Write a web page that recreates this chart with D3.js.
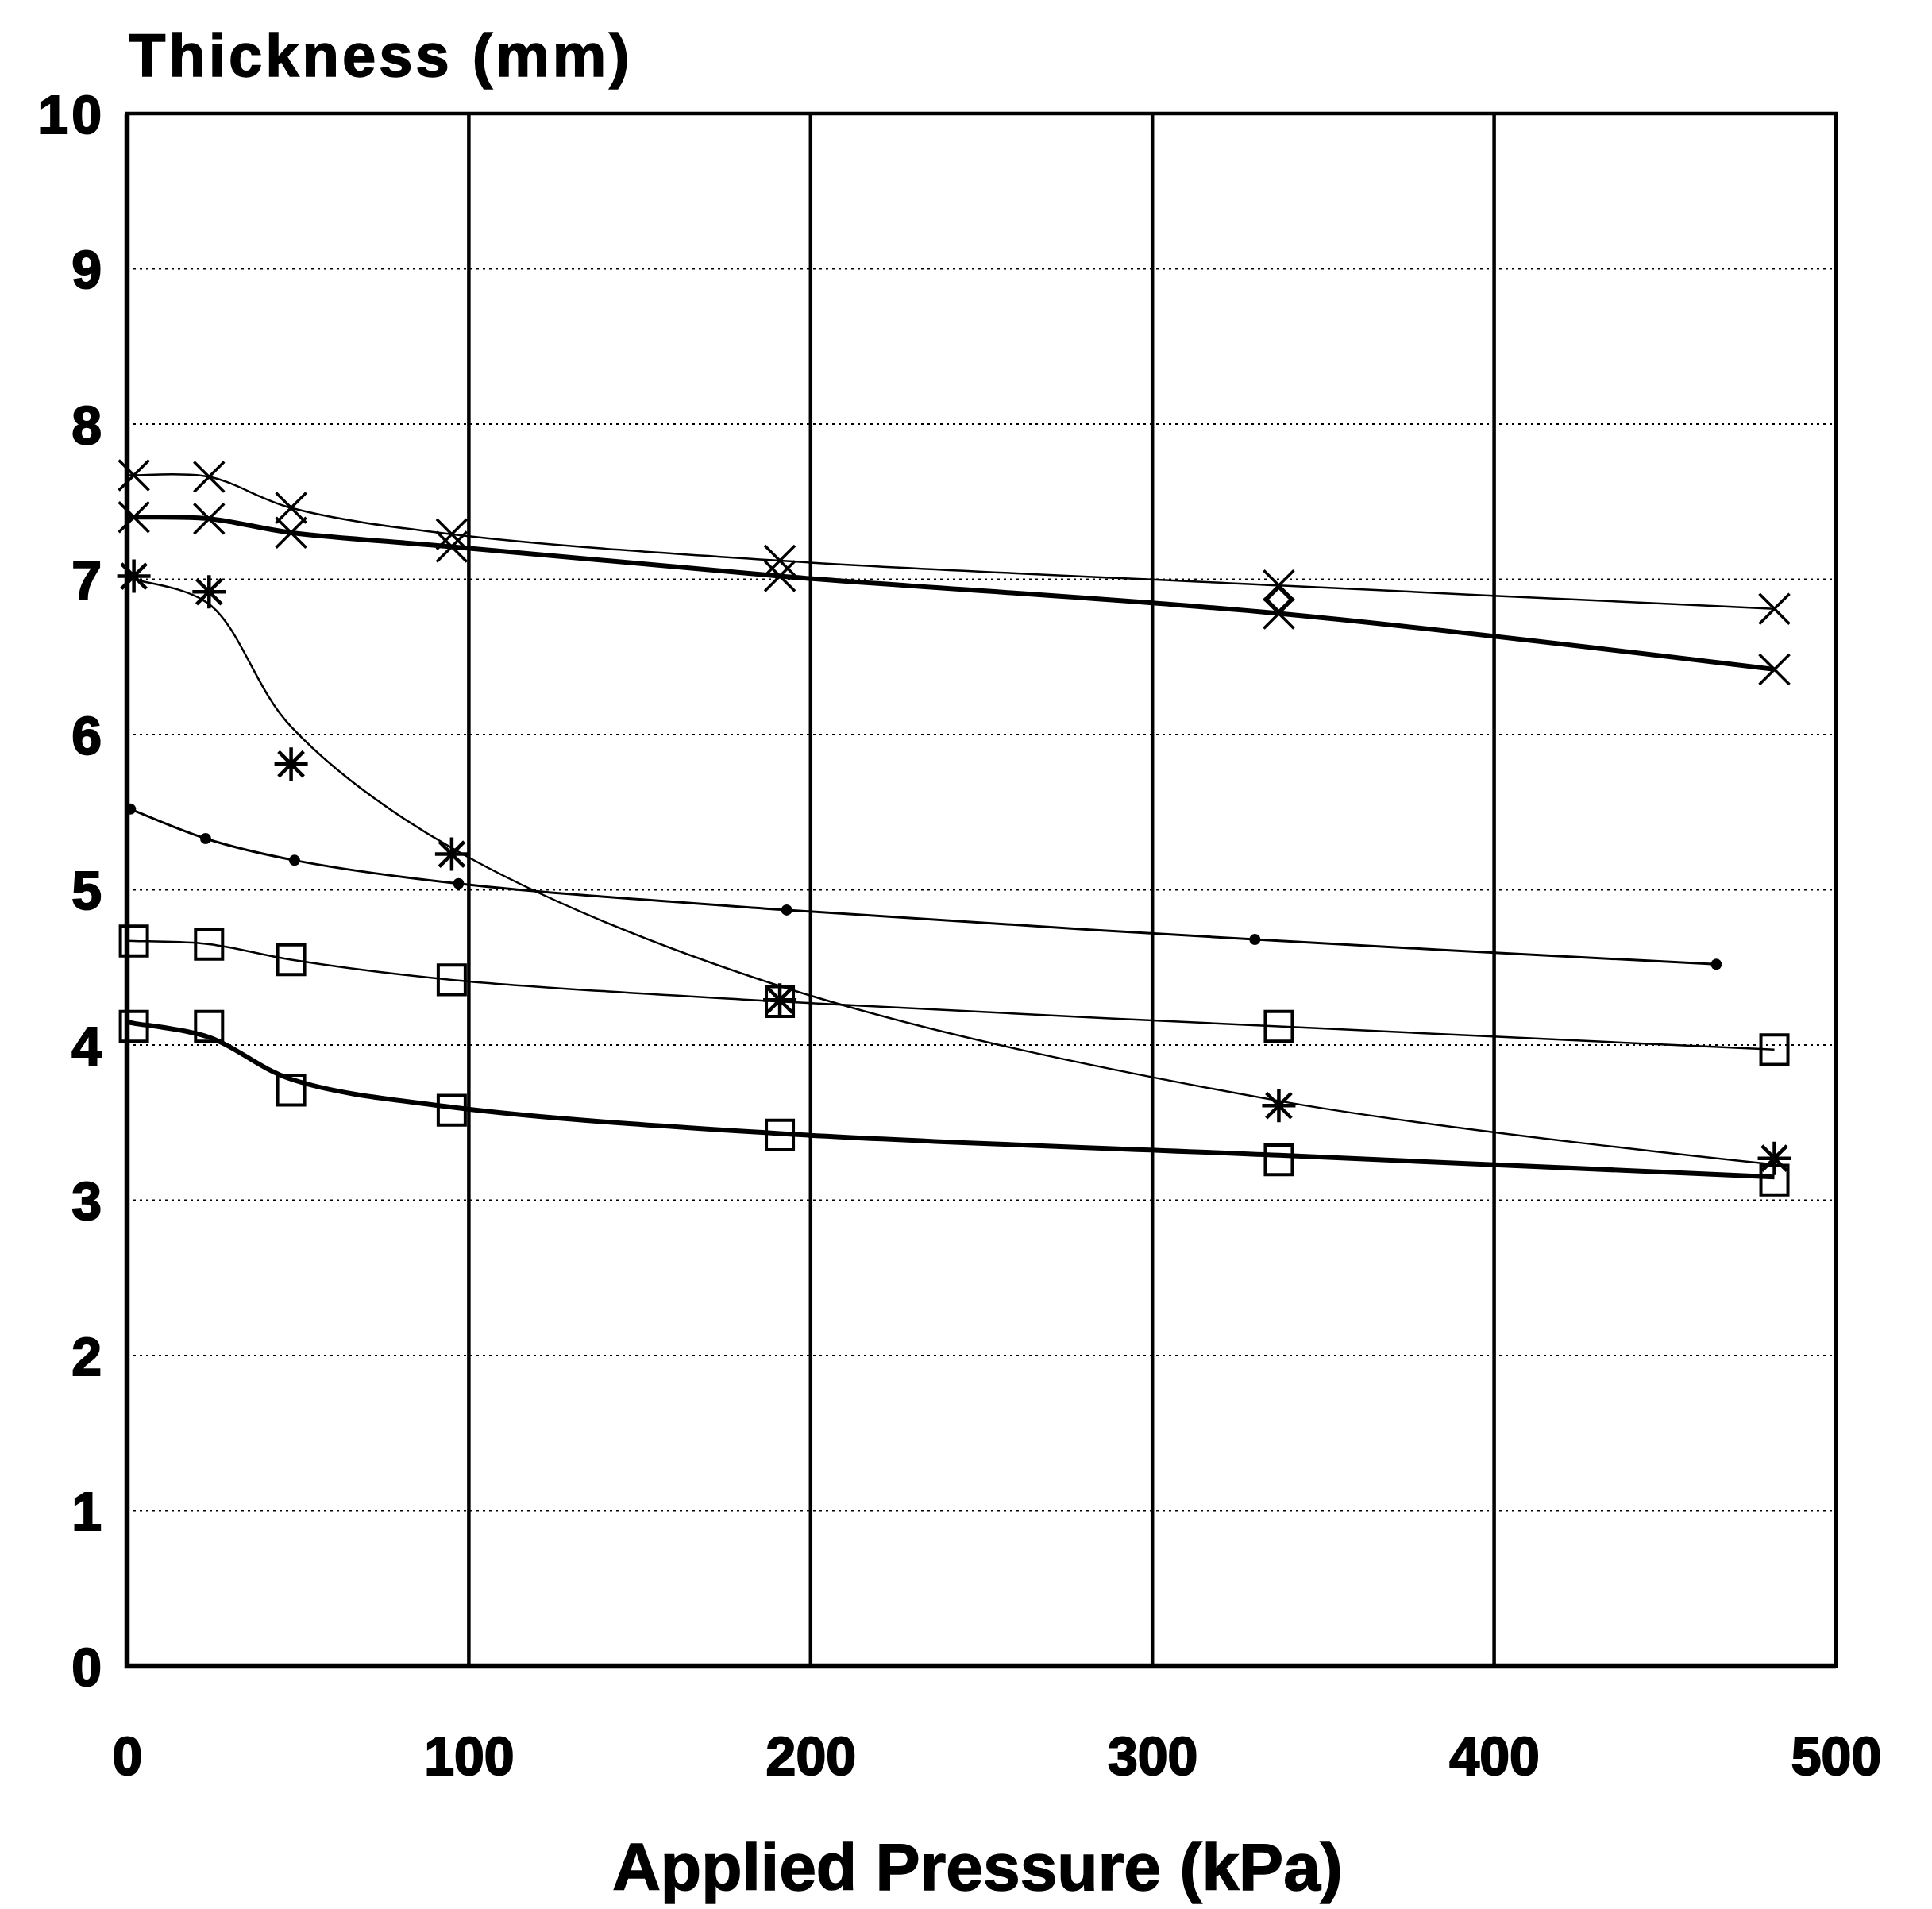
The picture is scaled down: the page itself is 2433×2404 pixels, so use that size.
<!DOCTYPE html>
<html>
<head>
<meta charset="utf-8">
<script src="https://cdn.jsdelivr.net/npm/d3@7"></script>
<style>
  body { margin: 0; background: #fff; }
  text { font-family: "Liberation Sans", Arial, sans-serif; font-weight: bold; fill: #000; }
</style>
</head>
<body>
<svg data-chart width="2433" height="2404"></svg>
<script>
// values
const pressure = [2, 24, 48, 95, 191, 337, 482]
const pressureDots = [1, 23, 49, 97, 193, 330, 465]

const thinCross = [7.67, 7.66, 7.46, 7.29, 7.12, 6.96, 6.81]
const thickCross = [7.40, 7.39, 7.30, 7.21, 7.02, 6.78, 6.42]
const starPoints = [7.02, 6.92, 5.81, 5.23, 4.29, 3.61, 3.27]
const starFit = [7.00, 6.84, 6.05, 5.27, 4.38, 3.64, 3.23]
const dotValues = [5.52, 5.33, 5.19, 5.04, 4.87, 4.68, 4.52]
const thinSquare = [4.67, 4.65, 4.55, 4.42, 4.28, 4.12, 3.97]
const thickSquarePoints = [4.12, 4.12, 3.71, 3.58, 3.42, 3.26, 3.13]
const thickSquareFit = [4.14, 4.05, 3.78, 3.60, 3.43, 3.29, 3.15]
const diamondPressure = [337]
const diamondValues = [6.87]

const xTicks = [0, 100, 200, 300, 400, 500]
const yTicks = [0, 1, 2, 3, 4, 5, 6, 7, 8, 9, 10]

let svg = d3.select('[data-chart]')

const x = d3.scaleLinear().domain([0, 500]).range([160, 2312])
const y = d3.scaleLinear().domain([0, 10]).range([2098, 143])

// grid
svg.append('g')
    .selectAll('line')
    .data(yTicks.filter(d => d > 0 && d < 10))
    .enter().append('line')
    .attr('x1', x(0)).attr('x2', x(500))
    .attr('y1', d => y(d)).attr('y2', d => y(d))
    .attr('stroke', '#000')
    .attr('stroke-width', 2)
    .attr('stroke-dasharray', '3,5')

svg.append('g')
    .selectAll('line')
    .data(xTicks.filter(d => d > 0 && d < 500))
    .enter().append('line')
    .attr('x1', d => x(d)).attr('x2', d => x(d))
    .attr('y1', y(0)).attr('y2', y(10))
    .attr('stroke', '#000')
    .attr('stroke-width', 4.5)

// frame
svg.append('rect')
    .attr('x', x(0)).attr('y', y(10))
    .attr('width', x(500) - x(0)).attr('height', y(0) - y(10))
    .attr('fill', 'none')
    .attr('stroke', '#000')
    .attr('stroke-width', 4.5)

svg.append('path')
    .attr('d', `M${x(0)},${y(10)}V${y(0)}H${x(500)}`)
    .attr('fill', 'none')
    .attr('stroke', '#000')
    .attr('stroke-width', 6.5)

// axes labels
let xAxis = svg.append('g')
    .attr('transform', `translate(0,${y(0) + 137})`)
    .call(d3.axisBottom(x).tickValues(xTicks).tickSize(0).tickPadding(0).tickFormat(d3.format('d')))
xAxis.select('.domain').remove()
xAxis.selectAll('text')
    .attr('dy', 0)
    .style('font-size', '68px')
    .style('font-family', '"Liberation Sans", Arial, sans-serif')
    .style('font-weight', 'bold')
    .attr('stroke', '#000').attr('stroke-width', 2)

let yAxis = svg.append('g')
    .attr('transform', `translate(${x(0) - 28},0)`)
    .call(d3.axisLeft(y).tickValues(yTicks).tickSize(0).tickPadding(0))
yAxis.select('.domain').remove()
yAxis.selectAll('text')
    .attr('dy', '0.36em')
    .style('font-size', '68px')
    .style('letter-spacing', '4px')
    .style('font-family', '"Liberation Sans", Arial, sans-serif')
    .style('font-weight', 'bold')
    .attr('stroke', '#000').attr('stroke-width', 2)

svg.append('text')
    .attr('x', 162).attr('y', 96)
    .attr('font-size', 76)
    .attr('letter-spacing', 4)
    .attr('stroke', '#000').attr('stroke-width', 1.5)
    .text('Thickness (mm)')

svg.append('text')
    .attr('x', 1231).attr('y', 2380)
    .attr('text-anchor', 'middle')
    .attr('font-size', 84)
    .attr('stroke', '#000').attr('stroke-width', 1.5)
    .text('Applied Pressure (kPa)')

// lines
const line = d3.line()
    .x(d => x(d[0]))
    .y(d => y(d[1]))
    .curve(d3.curveCatmullRom.alpha(0.5))

const lines = [
    {px: pressure, vals: thinCross, w: 2.5},
    {px: pressure, vals: thickCross, w: 6},
    {px: pressure, vals: starFit, w: 2.5},
    {px: pressureDots, vals: dotValues, w: 3},
    {px: pressure, vals: thinSquare, w: 2.5},
    {px: pressure, vals: thickSquareFit, w: 6}
]

lines.forEach(s => {
    let pts = s.px.map((p, i) => [p, s.vals[i]])
    pts.unshift([0, s.vals[0] + (s.vals[0] - s.vals[1]) * (s.px[0] / (s.px[1] - s.px[0]))])
    svg.append('path')
        .attr('d', line(pts))
        .attr('fill', 'none')
        .attr('stroke', '#000')
        .attr('stroke-width', s.w)
})

// marker shapes
const shapes = {
    cross: r => `M${-r},${-r}L${r},${r}M${-r},${r}L${r},${-r}`,
    star: r => `M${-r * 0.75},${-r * 0.75}L${r * 0.75},${r * 0.75}M${-r * 0.75},${r * 0.75}L${r * 0.75},${-r * 0.75}M0,${-r}V${r}M${-r},0H${r}`,
    square: r => `M${-r},${-r * 1.1}H${r}V${r * 1.1}H${-r}Z`,
    diamond: r => `M0,${-r}L${r},0L0,${r}L${-r},0Z`
}

const markers = [
    {px: pressure, vals: thinCross, shape: 'cross', r: 19, w: 3.5},
    {px: pressure, vals: thickCross, shape: 'cross', r: 19, w: 3.5},
    {px: pressure, vals: starPoints, shape: 'star', r: 21, w: 4.5},
    {px: pressure, vals: thinSquare, shape: 'square', r: 17, w: 4},
    {px: pressure, vals: thickSquarePoints, shape: 'square', r: 17, w: 4},
    {px: diamondPressure, vals: diamondValues, shape: 'diamond', r: 15, w: 3.5}
]

markers.forEach(m => {
    svg.append('g')
        .selectAll('path')
        .data(m.px.map((p, i) => [p, m.vals[i]]))
        .enter().append('path')
        .attr('transform', d => `translate(${x(d[0])},${y(d[1])})`)
        .attr('d', shapes[m.shape](m.r))
        .attr('fill', 'none')
        .attr('stroke', '#000')
        .attr('stroke-width', m.w)
})

svg.append('g')
    .selectAll('circle')
    .data(pressureDots.map((p, i) => [p, dotValues[i]]))
    .enter().append('circle')
    .attr('cx', d => x(d[0]))
    .attr('cy', d => y(d[1]))
    .attr('r', 7)
    .attr('fill', '#000')
</script>
</body>
</html>
